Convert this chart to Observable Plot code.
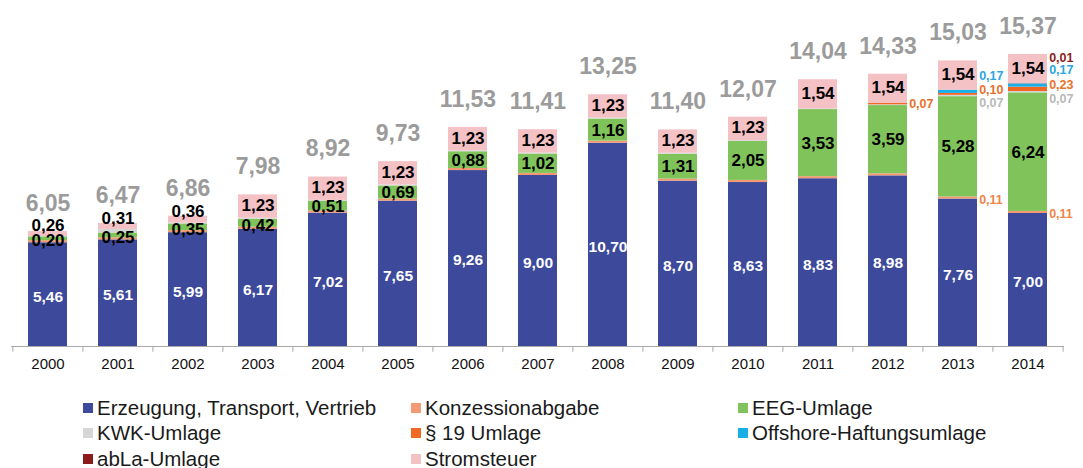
<!DOCTYPE html>
<html><head><meta charset="utf-8">
<script src="https://cdn.jsdelivr.net/npm/d3@7"></script>
<script src="https://cdn.jsdelivr.net/npm/@observablehq/plot@0.6"></script>
<style>
body{margin:0;background:#fff;font-family:"Liberation Sans",Arial,sans-serif;}
#chart{position:relative;width:1083px;height:468px;overflow:hidden;}
#legend{position:absolute;left:83px;top:395px;display:grid;grid-template-columns:328px 327px auto;grid-auto-rows:25.5px;font-size:20.5px;color:#1a1a1a;line-height:1;}
.item{display:flex;align-items:center;white-space:nowrap;}
.sw{width:10px;height:10px;margin-right:4px;flex:none;}
</style></head>
<body><div id="chart"><div id="plot"></div><div id="legend"></div></div>
<script>
const years = ["2000","2001","2002","2003","2004","2005","2006","2007","2008","2009","2010","2011","2012","2013","2014"];
const series = ["Erzeugung, Transport, Vertrieb","Konzessionabgabe","EEG-Umlage","KWK-Umlage","§ 19 Umlage","Offshore-Haftungsumlage","abLa-Umlage","Stromsteuer"];
const colors = ["#3d4a9c","#f39a74","#80c35a","#d6d6d6","#f06824","#1aaee6","#8c1c1c","#f4c1c5"];

const erzeugung   = [5.46,5.61,5.99,6.17,7.02,7.65,9.26,9.00,10.70,8.70,8.63,8.83,8.98,7.76,7.00];
const konzession  = [0.11,0.11,0.11,0.11,0.11,0.11,0.11,0.11,0.11,0.11,0.11,0.11,0.11,0.11,0.11];
const eeg         = [0.20,0.25,0.35,0.42,0.51,0.69,0.88,1.02,1.16,1.31,2.05,3.53,3.59,5.28,6.24];
const kwk         = [0.02,0.19,0.05,0.05,0.05,0.05,0.05,0.05,0.05,0.05,0.05,0.03,0.04,0.07,0.07];
const par19       = [0,0,0,0,0,0,0,0,0,0,0,0,0.07,0.10,0.23];
const offshore    = [0,0,0,0,0,0,0,0,0,0,0,0,0,0.17,0.17];
const abla        = [0,0,0,0,0,0,0,0,0,0,0,0,0,0,0.01];
const stromsteuer = [0.26,0.31,0.36,1.23,1.23,1.23,1.23,1.23,1.23,1.23,1.23,1.54,1.54,1.54,1.54];
const totals      = [6.05,6.47,6.86,7.98,8.92,9.73,11.53,11.41,13.25,11.40,12.07,14.04,14.33,15.03,15.37];
const sideLabelYears = ["2013","2014"];

const seriesValues = [erzeugung, konzession, eeg, kwk, par19, offshore, abla, stromsteuer];
const fmt = v => v.toFixed(2).replace(".", ",");

const rows = [];
years.forEach((yr, i) => {
  let acc = 0;
  seriesValues.forEach((vals, s) => {
    const v = vals[i];
    rows.push({year: yr, series: series[s], value: v, y0: acc, y1: acc + v, mid: acc + v / 2});
    acc += v;
  });
});
const totalRows = years.map((yr, i) => ({year: yr, total: totals[i]}));
const bySeries = s => rows.filter(d => d.series === series[s] && d.value > 0);

const bw = 39.3;
const side = (data, fill, dy) => Plot.text(data,
  {x: "year", y: "mid", text: d => fmt(d.value), textAnchor: "start", dx: bw / 2 + 1.5, dy,
   fill, fontSize: 12.5, fontWeight: "bold"});
const inner = (data, dy) => Plot.text(data,
  {x: "year", y: "mid", text: d => fmt(d.value), dy, fill: "#000", fontSize: 17, fontWeight: "bold"});
const small = d => d.value < 0.5;
const inYears = d => sideLabelYears.includes(d.year);

const chart = Plot.plot({
  width: 1083,
  height: 385,
  marginLeft: 11,
  marginRight: 19,
  marginTop: 0,
  marginBottom: 39,
  style: {fontFamily: "'Liberation Sans', Arial, sans-serif", overflow: "visible", background: "#fff"},
  x: {domain: years, paddingInner: 0.44, paddingOuter: 0.22, label: null},
  y: {domain: [0, 18.21], axis: null},
  color: {domain: series, range: colors},
  marks: [
    Plot.barY(rows.filter(d => d.value > 0), {x: "year", y1: "y0", y2: "y1", fill: "series"}),
    Plot.ruleY([0], {stroke: "#a8a8a8", strokeWidth: 1.2}),
    Plot.ruleX(years, {x: d => d, dx: -35.1, y1: 0, y2: -0.3, stroke: "#a8a8a8"}),
    Plot.ruleX(years.slice(-1), {x: d => d, dx: 35.1, y1: 0, y2: -0.3, stroke: "#a8a8a8"}),
    Plot.axisX({tickSize: 0, tickPadding: 12, fontSize: 15, fill: "#111", label: null}),
    Plot.text(totalRows, {x: "year", y: "total", text: d => fmt(d.total), dy: -28,
      fill: "#9b9b9b", fontSize: 23, fontWeight: "bold"}),
    Plot.text(bySeries(0), {x: "year", y: "mid", text: d => fmt(d.value), dy: 2,
      fill: "#ffffff", fontSize: 15.5, fontWeight: "bold"}),
    inner(bySeries(2).filter(small), 2),
    inner(bySeries(2).filter(d => !small(d)), 0),
    inner(bySeries(7).filter(small), -8),
    inner(bySeries(7).filter(d => !small(d)), -1),
    side(bySeries(1).filter(inYears), "#ef8448", 2),
    side(bySeries(3).filter(inYears), "#b8b8b8", 7),
    side(bySeries(4).filter(inYears), "#e8722c", -4),
    side(bySeries(4).filter(d => !inYears(d)), "#e8722c", 0),
    side(bySeries(5), "#2aa6df", -16),
    side(bySeries(6), "#8c1c1c", -26)
  ]
});
document.getElementById("plot").appendChild(chart);

const legend = document.getElementById("legend");
series.forEach((s, i) => {
  const item = document.createElement("div");
  item.className = "item";
  item.innerHTML = `<span class="sw" style="background:${colors[i]}"></span><span>${s}</span>`;
  legend.appendChild(item);
});
</script></body></html>
